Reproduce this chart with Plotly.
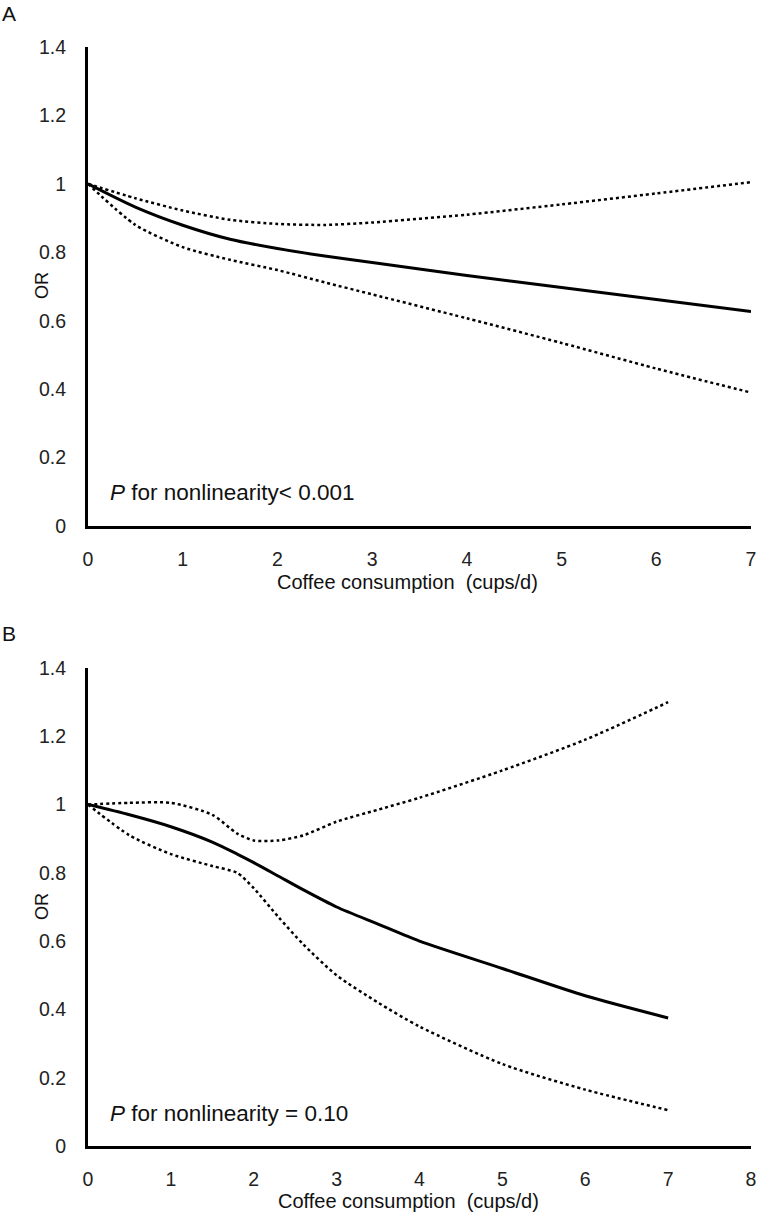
import plotly.graph_objects as go

W, H = 757, 1212

# Panel A data
a_x = [0, 0.5, 1, 1.5, 2, 2.5, 3, 4, 5, 6, 7]
a_or = [1.0, 0.932, 0.879, 0.838, 0.811, 0.789, 0.77, 0.732, 0.697, 0.662, 0.627]
a_upper = [1.0, 0.958, 0.922, 0.895, 0.883, 0.88, 0.887, 0.91, 0.94, 0.972, 1.005]
a_lower = [1.0, 0.88, 0.815, 0.778, 0.748, 0.712, 0.677, 0.607, 0.535, 0.46, 0.39]

# Panel B data
b_x = [0, 0.5, 1, 1.5, 1.8, 2, 2.3, 2.6, 3, 3.5, 4, 5, 6, 7]
b_or = [1.0, 0.97, 0.935, 0.89, 0.855, 0.83, 0.79, 0.75, 0.70, 0.65, 0.60, 0.52, 0.44, 0.375]
b_upper = [1.0, 1.005, 1.005, 0.97, 0.915, 0.895, 0.895, 0.91, 0.95, 0.985, 1.02, 1.10, 1.19, 1.30]
b_lower = [1.0, 0.91, 0.855, 0.82, 0.80, 0.755, 0.67, 0.59, 0.50, 0.42, 0.35, 0.24, 0.165, 0.105]

a_xticks = [0, 1, 2, 3, 4, 5, 6, 7]
b_xticks = [0, 1, 2, 3, 4, 5, 6, 7, 8]
y_ticks = [0, 0.2, 0.4, 0.6, 0.8, 1.0, 1.2, 1.4]
y_ticktext = ["0", "0.2", "0.4", "0.6", "0.8", "1", "1.2", "1.4"]

FONT = "Liberation Sans, Arial, sans-serif"

def px_x(p):
    return p / W

def px_y(p):
    return 1 - p / H

fig = go.Figure()

def add_panel(xs, orv, up, lo, xa, ya):
    for ys, dash, w in [(up, "dot", 2.5), (lo, "dot", 2.5), (orv, "solid", 3)]:
        fig.add_trace(go.Scatter(x=xs, y=ys, mode="lines", xaxis=xa, yaxis=ya,
                                 line=dict(color="black", width=w, dash=dash, shape="spline", smoothing=0.7),
                                 showlegend=False, hoverinfo="skip"))

add_panel(a_x, a_or, a_upper, a_lower, "x", "y")
add_panel(b_x, b_or, b_upper, b_lower, "x2", "y2")

axis_common = dict(showline=True, linecolor="black", linewidth=3, showgrid=False, zeroline=False,
                   automargin=False, ticks="outside", tickcolor="rgba(0,0,0,0)",
                   ticklabeloverflow="allow",
                   tickfont=dict(family=FONT, size=19.5, color="#222"))

fig.update_layout(
    width=W, height=H, margin=dict(l=0, r=0, t=0, b=0),
    paper_bgcolor="white", plot_bgcolor="white",
    xaxis=dict(domain=[px_x(88), px_x(751)], range=[0, 7], tickvals=a_xticks, anchor="y", ticklen=14, **axis_common),
    yaxis=dict(domain=[px_y(526), px_y(47)], range=[0, 1.4], tickvals=y_ticks, ticktext=y_ticktext, anchor="x", ticklen=15, **axis_common),
    xaxis2=dict(domain=[px_x(88), px_x(751)], range=[0, 8], tickvals=b_xticks, anchor="y2", ticklen=14, **axis_common),
    yaxis2=dict(domain=[px_y(1146), px_y(668)], range=[0, 1.4], tickvals=y_ticks, ticktext=y_ticktext, anchor="x2", ticklen=15, **axis_common),
)

def ann(text, x, y, size=17, xanchor="left", yanchor="middle", angle=0):
    fig.add_annotation(text=text, x=px_x(x), y=px_y(y), xref="paper", yref="paper",
                       showarrow=False, xanchor=xanchor, yanchor=yanchor, textangle=angle,
                       font=dict(family=FONT, size=size, color="#111"))

ann("A", 0, 14, size=21)
ann("B", 0, 634, size=21)
ann("OR", 30, 286, angle=-90, size=18)
ann("OR", 30, 907, angle=-90, size=18)
ann("Coffee consumption  (cups/d)", 275, 582, size=20)
ann("Coffee consumption  (cups/d)", 276, 1201, size=20)
ann("<i>P</i> for nonlinearity< 0.001", 108, 492, size=22.5)
ann("<i>P</i> for nonlinearity = 0.10", 108, 1113, size=22.5)

fig.write_html("out.html", config={"displayModeBar": False},
               post_script="document.body.style.margin='0';document.body.style.overflow='hidden';")
